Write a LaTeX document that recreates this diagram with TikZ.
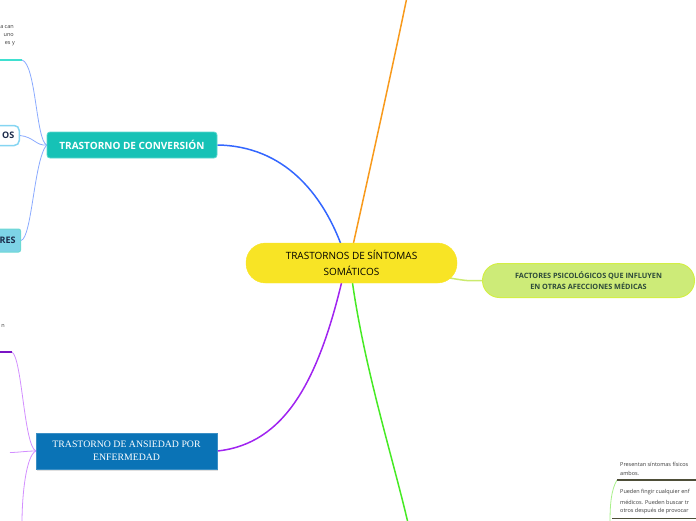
\documentclass[tikz,border=0pt]{standalone}
\usepackage{fontspec}
\setmainfont{Open Sans}
\newfontfamily\serifnode{Liberation Serif}
\usetikzlibrary{shadows,calc}
\definecolor{cyellow}{HTML}{F8E425}
\definecolor{rfill}{HTML}{CDEB78}
\definecolor{rdraw}{HTML}{D3EF45}
\definecolor{rtext}{HTML}{2D4A3A}
\definecolor{convfill}{HTML}{16C2B6}
\definecolor{convdraw}{HTML}{5AD8CF}
\definecolor{ansfill}{HTML}{0A73B6}
\definecolor{osdraw}{HTML}{85D5F2}
\definecolor{resfill}{HTML}{7DD3E6}
\definecolor{resdraw}{HTML}{6CD9D4}
\definecolor{navy}{HTML}{1B2A4A}
\definecolor{lblue}{HTML}{3366FF}
\definecolor{lorange}{HTML}{F89A1C}
\definecolor{lpurple}{HTML}{A024F0}
\definecolor{lgreen}{HTML}{46EA24}
\definecolor{lyg}{HTML}{CBEA6E}
\definecolor{lbranch}{HTML}{8AAAFF}
\definecolor{turq}{HTML}{3FE0D0}
\definecolor{ppale}{HTML}{D28EFF}
\definecolor{pdark}{HTML}{7A14C4}
\definecolor{gpale}{HTML}{A8F08A}
\definecolor{uline}{HTML}{4E4E38}
\definecolor{smalltext}{HTML}{3A3A3A}
\pgfdeclarelayer{bg}
\pgfsetlayers{bg,main}
\begin{document}
\begin{tikzpicture}[x=1pt,y=-1pt,
  mainline/.style={line width=1.5pt},
  branch/.style={line width=0.8pt},
  ulinestyle/.style={line width=1.3pt},
  centerbox/.style={fill=cyellow, draw=cyellow, rounded corners=19.5pt, minimum width=211pt, minimum height=40pt, align=center, font=\fontsize{10}{15.5}\selectfont, text=black, inner sep=0pt},
  rightbox/.style={fill=rfill, draw=rdraw, line width=1pt, rounded corners=17pt, minimum width=212pt, minimum height=34pt, align=center, font=\fontsize{7.3}{10.5}\selectfont\bfseries, text=rtext, inner sep=0pt},
  convbox/.style={fill=convfill, draw=convdraw, line width=0.8pt, rounded corners=3pt, minimum width=170pt, minimum height=26pt, font=\fontsize{10}{12}\selectfont\bfseries, text=white, inner sep=0pt},
  ansbox/.style={fill=ansfill, draw=ansfill!80!white, line width=0.5pt, minimum width=181pt, minimum height=36pt, align=center, font=\serifnode\fontsize{9.8}{13}\selectfont, text=white, inner sep=0pt, drop shadow={opacity=0.25, shadow xshift=1pt, shadow yshift=-1.5pt}},
  osbox/.style={fill=white, draw=osdraw, line width=1.5pt, rounded corners=5pt, minimum height=20pt, text width=40pt, align=right, inner xsep=5pt, font=\fontsize{9}{10}\selectfont\bfseries, text=navy},
  resbox/.style={fill=resfill, draw=resdraw, line width=1pt, rounded corners=2pt, minimum height=23pt, text width=40pt, align=right, inner xsep=5pt, font=\fontsize{9}{10}\selectfont\bfseries, text=navy},
  tiny/.style={font=\fontsize{5.5}{6}\selectfont, text=smalltext, inner sep=0pt},
]
\useasboundingbox (0,0) rectangle (696,520);
\clip (0,0) rectangle (696,520);

% nodes
\node[centerbox] (c) at (351.5,263) {TRASTORNOS DE SÍNTOMAS\\SOMÁTICOS};
\node[rightbox] (r) at (588.5,280.5) {FACTORES PSICOLÓGICOS QUE INFLUYEN\\EN OTRAS AFECCIONES MÉDICAS};
\node[convbox] (conv) at (132,145) {TRASTORNO DE CONVERSIÓN};
\node[ansbox] (ans) at (126.5,451) {TRASTORNO DE ANSIEDAD POR\\ENFERMEDAD};
\node[osbox, anchor=east] (os) at (20,135.5) {OS};
\node[resbox, anchor=east] (res) at (21,240.5) {RES};

% small text fragments
\node[tiny, anchor=east] (t1) at (14,27) {a can};
\node[tiny, anchor=east] (t2) at (14,35.5) {uno};
\node[tiny, anchor=east] (t3) at (15,44) {es y};
\node[tiny, anchor=east] (t4) at (5,326) {n};
\node[tiny, anchor=west] (b1) at (620,464) {Presentan síntomas físicos};
\node[tiny, anchor=west] (b2) at (620,473) {ambos.};
\node[tiny, anchor=west] (b3) at (620,492) {Pueden fingir cualquier enf};
\node[tiny, anchor=west] (b4) at (620,502) {médicos. Pueden buscar tr};
\node[tiny, anchor=west] (b5) at (620,511.5) {otros después de provocar};

% free ends
\coordinate (orangeEnd) at (407,-3);
\coordinate (greenEnd) at (408,523);
\coordinate (tlEnd) at (22,60);
\coordinate (tlStart) at (-5,60);
\coordinate (plEnd) at (12,352);
\coordinate (plStart) at (-5,352);
\coordinate (pmEnd) at (10,452.5);
\coordinate (pbEnd) at (22,523);
\coordinate (brA) at (617,480);
\coordinate (brAend) at (700,480);
\coordinate (brB) at (610,523);
\coordinate (brC) at (612,518.5);
\coordinate (brCend) at (700,518.5);

\begin{pgfonlayer}{bg}
% main connectors
\draw[mainline, lblue] (conv.east) .. controls (285,146) and (322,195) .. ($(c.center)+(-11,-20)$);
\draw[mainline, lorange] ($(c.center)+(2,-20)$) .. controls (372,160) and (394,60) .. (orangeEnd);
\draw[mainline, lpurple] ($(c.center)+(-10,20)$) .. controls (318,380) and (285,444) .. (ans.east);
\draw[mainline, lgreen] ($(c.center)+(1,20)$) .. controls (365,370) and (392,455) .. (greenEnd);
\draw[mainline, lyg] ($(c.center)+(98,15)$) .. controls (468,281) .. (r.west);

% conversion branches
\draw[branch, lbranch] (conv.west) .. controls (36,140) and (36,64) .. (tlEnd);
\draw[branch, lbranch] (os.east) .. controls (34,137) and (36,146) .. (conv.west);
\draw[branch, lbranch] (res.east) .. controls (32,238) and (34,160) .. (conv.west);
\draw[ulinestyle, turq] (tlStart) -- (tlEnd);

% ansiedad branches
\draw[branch, ppale] (ans.west) .. controls (24,445) and (22,358) .. (plEnd);
\draw[branch, ppale] (ans.west) .. controls (26,451) and (18,452.5) .. (pmEnd);
\draw[branch, ppale] (ans.west) .. controls (26,456) and (22,495) .. (pbEnd);
\draw[ulinestyle, pdark] (plStart) -- (plEnd);

% bottom right
\draw[branch, gpale] (brA) .. controls (611,490) and (610,505) .. (brB);
\draw[ulinestyle, uline] (brA) -- (brAend);
\draw[ulinestyle, uline] (brC) -- (brCend);
\end{pgfonlayer}
\end{tikzpicture}
\end{document}
